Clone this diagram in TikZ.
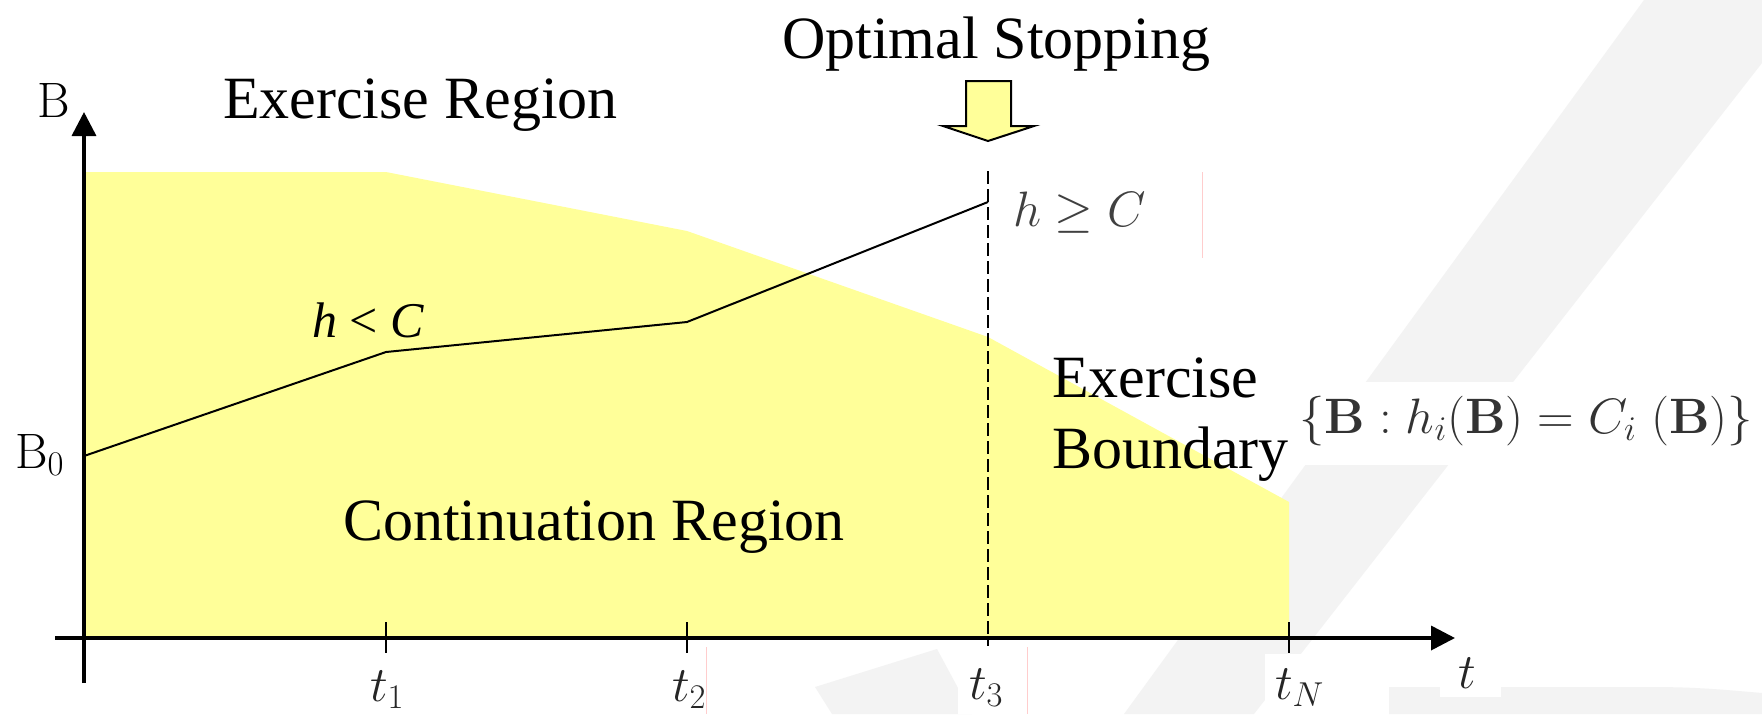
\documentclass[tikz,border=0pt]{standalone}
\usepackage[no-math]{fontspec}
\setmainfont{Liberation Serif}
\usetikzlibrary{arrows.meta}
\definecolor{fillyellow}{RGB}{255,255,153}
\definecolor{wmgray}{RGB}{243,243,243}
\definecolor{faintpink}{RGB}{255,205,205}
\begin{document}
\begin{tikzpicture}[x=0.5pt,y=-0.5pt,
  txt/.style={inner sep=0pt, outer sep=0pt, anchor=base west, font=\fontsize{30}{36}\selectfont},
  itxt/.style={inner sep=0pt, outer sep=0pt, anchor=base west, font=\fontsize{25}{30}\selectfont\itshape},
  mlbl/.style={inner sep=0pt, outer sep=0pt, anchor=base west, font=\fontsize{25}{30}\selectfont, text=black!85},
  axisline/.style={line width=1.8pt, -{Triangle[length=12pt,width=12pt]}},
  tickline/.style={line width=0.8pt},
  pathline/.style={line width=1pt},
  dashline/.style={line width=0.9pt, dash pattern=on 6.5pt off 2.5pt},
  pinkline/.style={faintpink, line width=0.5pt},
  blockarrow/.style={line width=1pt, fill=fillyellow, line join=miter}]
\useasboundingbox (0,0) rectangle (1762,714);
\fill[white] (0,0) rectangle (1762,714);
% faint watermark
\fill[wmgray] (1644,0) -- (1762,0) -- (1762,63) -- (1254,714) -- (1124,714) -- cycle;
\fill[wmgray] (832,714) -- (815,687) -- (937,649) -- (972,714) -- cycle;
\fill[wmgray] (1389,687) -- (1650,687) to[out=0,in=175] (1762,693) -- (1762,714) -- (1389,714) -- cycle;
% white label backgrounds
\fill[white] (1290,382) rectangle (1762,465);
\fill[white] (958,646) rectangle (1028,714);
\fill[white] (1265,654) rectangle (1337,714);
\fill[white] (1440,640) rectangle (1501,697);
% faint pink artefacts
\draw[pinkline] (1202,172) -- (1202,258);
\draw[pinkline] (706,647) -- (706,714);
\draw[pinkline] (1027,647) -- (1027,714);
% continuation region
\fill[fillyellow] (86,172) -- (386,172) -- (687,231) -- (988,337) -- (1289,502) -- (1289,638) -- (86,638) -- cycle;
% coordinates
\coordinate (yb) at (84,683);
\coordinate (yt) at (84,112);
\coordinate (xl) at (55,638);
\coordinate (xr) at (1455,638);
\coordinate (p0) at (84,456);
\coordinate (p1) at (386,352);
\coordinate (p2) at (687,322);
\coordinate (p3) at (988,202);
\coordinate (d0) at (988,171);
\coordinate (d1) at (988,646);
% axes
\draw[axisline] (yb) -- (yt);
\draw[axisline] (xl) -- (xr);
% ticks
\foreach \x/\n in {386/a,687/b,1289/c} {
  \coordinate (tk\n top) at (\x,622);
  \coordinate (tk\n bot) at (\x,653);
  \draw[tickline] (tk\n top) -- (tk\n bot);
}
% dashed stopping line
\draw[dashline] (d0) -- (d1);
% sample path
\draw[pathline] (p0) -- (p1) -- (p2) -- (p3);
% block arrow
\draw[blockarrow] (966,81) -- (1011,81) -- (1011,126) -- (1034,126) -- (988,141) -- (943,126) -- (966,126) -- cycle;
% labels
\node[txt] (opt) at (782,58) {Optimal Stopping};
\node[txt] (exr) at (223,118) {Exercise Region};
\node[txt] (cont) at (343,540) {Continuation Region};
\node[txt] (exb1) at (1052,397) {Exercise};
\node[txt] (exb2) at (1052,468) {Boundary};
\node[itxt] (hlc) at (312,337) {h\upshape\ <\ \itshape C};
\node[mlbl, text=black, font=\fontsize{25.5}{30}\selectfont] (Blab) at (38,117) {$\mathrm{B}$};
\node[mlbl, text=black, font=\fontsize{26}{30}\selectfont] (B0) at (15,468) {$\mathrm{B}_0$};
\node[mlbl, text=black!75, font=\fontsize{26}{30}\selectfont] (hgc) at (1013,226) {$h \geq C$};
\node[mlbl, text=black!80, font=\fontsize{26}{30}\selectfont] (form) at (1299,433) {\resizebox{227pt}{\height}{$\{\mathbf{B} : h_i(\mathbf{B}) = C_i\;(\mathbf{B})\}$}};
\node[mlbl] (t1) at (370,701) {$t_1$};
\node[mlbl] (t2) at (672,701) {$t_2$};
\node[mlbl] (t3) at (969,699) {$t_3$};
\node[mlbl] (tN) at (1275,699) {$t_N$};
\node[mlbl] (tt) at (1458,688) {$t$};
\end{tikzpicture}
\end{document}
